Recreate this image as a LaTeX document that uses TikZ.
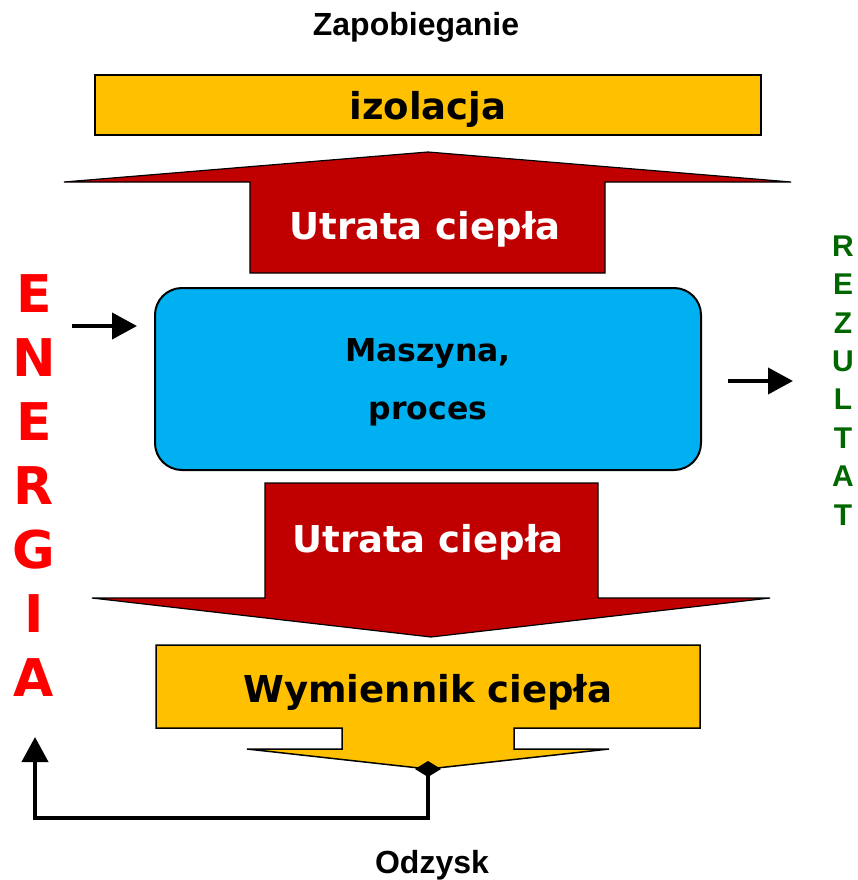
\documentclass[tikz,border=0pt]{standalone}
\usepackage{fontspec}
\setmainfont{DejaVu Sans}
\newfontfamily\arialfont{Liberation Sans}
\usetikzlibrary{arrows.meta,positioning}
\definecolor{lossred}{HTML}{C00000}
\definecolor{goldfill}{HTML}{FFC000}
\definecolor{procblue}{HTML}{00B0F0}
\definecolor{energyred}{HTML}{FF0000}
\definecolor{resultgreen}{HTML}{006600}

\begin{document}
\begin{tikzpicture}[x=1pt, y=-1pt, >={Triangle[length=25pt,width=26pt]},
    lossarrow/.style={draw, line width=1.2pt, fill=lossred},
    goldshape/.style={draw, line width=1.5pt, fill=goldfill},
    bigtext/.style={font=\fontsize{37}{41}\selectfont\bfseries},
    losstext/.style={bigtext, text=white},
    caption/.style={font=\arialfont\fontsize{32}{36}\selectfont\bfseries},
    energy/.style={font=\fontsize{52}{56}\selectfont\bfseries, text=energyred},
    result/.style={font=\arialfont\fontsize{30}{34}\selectfont\bfseries, text=resultgreen},
    flow/.style={->, line width=4pt}]
    \useasboundingbox (0,0) rectangle (858,880);

    % Zapobieganie: izolacja
    \node[caption, anchor=base] (prev) at (416,36) {Zapobieganie};
    \node[goldshape, bigtext, minimum width=666pt, minimum height=60pt, text depth=0pt] (insul) at (428,105) {izolacja};

    % heat loss upwards
    \draw[lossarrow] (250,273) -- (250,182) -- (64,182) -- (428,152) -- (791,182) -- (605,182) -- (605,273) -- cycle;
    \node[losstext, anchor=base] (lossUp) at (425,239) {Utrata ciepła};

    % Maszyna, proces
    \node[draw, line width=2pt, fill=procblue, rounded corners=27pt, minimum width=546pt, minimum height=182pt,
          align=center, font=\fontsize{31.5}{58}\selectfont\bfseries, text depth=0pt] (proc) at (428,379) {Maszyna,\\proces};

    % heat loss downwards
    \draw[lossarrow] (265,483) -- (598,483) -- (598,598) -- (770,598) -- (431,637) -- (92,598) -- (265,598) -- cycle;
    \node[losstext, anchor=base] (lossDown) at (428,552) {Utrata ciepła};

    % Wymiennik ciepla
    \draw[goldshape] (156,645) -- (700,645) -- (700,728) -- (514,728) -- (514,749) -- (609,749) -- (428,769)
                     -- (247,749) -- (342,749) -- (342,728) -- (156,728) -- cycle;
    \node[bigtext, anchor=base] (hx) at (428,702) {Wymiennik ciepła};
    \coordinate (hxtip) at (428,769);

    % ENERGIA / REZULTAT
    \foreach \ch [count=\i from 0] in {E,N,E,R,G,I,A}
        \node[energy] (en\i) at (34,{294+64*\i}) {\ch};
    \foreach \ch [count=\i from 0] in {R,E,Z,U,L,T,A,T}
        \node[result] (re\i) at (843,{246+38.4*\i}) {\ch};

    % connections
    \coordinate (enIn) at (72,326);
    \coordinate (resOut) at (793,381);
    \coordinate (recIn) at (35,737);
    \draw[flow] (enIn) -- ([xshift=-17pt]enIn -| proc.west);
    \draw[flow] ([xshift=26pt]proc.east |- resOut) -- (resOut);
    \draw[flow, {Diamond[length=16pt,width=26pt]}->] ([yshift=8pt]hxtip) -- (428,818) -| (recIn);

    % Odzysk
    \node[caption, anchor=base] (recov) at (432,873) {Odzysk};
\end{tikzpicture}
\end{document}
